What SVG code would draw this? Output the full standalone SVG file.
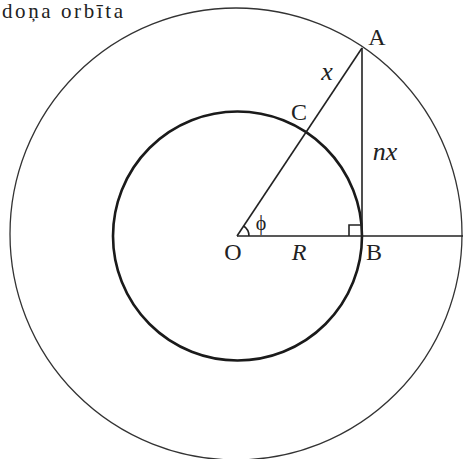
<svg xmlns="http://www.w3.org/2000/svg" width="463" height="459" viewBox="0 0 463 459">
<style>
.lbl{font-family:"Liberation Serif","Times New Roman",serif;font-size:24px;fill:#222;text-anchor:middle}
.it{font-style:italic}
.ln{stroke:#222;stroke-width:1.6;fill:none}
</style>
<rect width="463" height="459" fill="#fff"/>
<g id="outer-orbit">
<circle cx="236" cy="234" r="226" fill="none" stroke="#333" stroke-width="1.3"/>
</g>
<g id="inner-circle">
<circle cx="237.5" cy="236" r="124.5" fill="none" stroke="#1a1a1a" stroke-width="2.6"/>
</g>
<g id="connectors">
<line class="ln" x1="237" y1="236" x2="463" y2="236"/>
<line class="ln" x1="237" y1="236" x2="362" y2="48"/>
<line class="ln" x1="362" y1="48" x2="362" y2="236"/>
<path class="ln" d="M349,236 V225 H362" stroke-width="1.3"/>
<path class="ln" d="M249,236 A12,12 0 0 0 243.6,226" stroke-width="1.3"/>
</g>
<g id="labels">
<text x="2" y="18" style="font-family:'Liberation Serif','Times New Roman',serif;font-size:21px;fill:#222" textLength="121" lengthAdjust="spacing">doņa orbīta</text>
<g id="node-O"><text class="lbl" x="233" y="260">O</text></g>
<g id="node-B"><text class="lbl" x="374" y="260">B</text></g>
<g id="node-A"><text class="lbl" x="377" y="45">A</text></g>
<g id="node-C"><text class="lbl" x="299" y="120">C</text></g>
<text class="lbl it" x="299" y="260">R</text>
<text class="lbl it" x="327" y="80" style="font-size:26px">x</text>
<text class="lbl it" x="385" y="160" style="font-size:26px">nx</text>
<text class="lbl" x="261" y="230" style="font-size:20px;fill:#222">ϕ</text>
</g>
</svg>
